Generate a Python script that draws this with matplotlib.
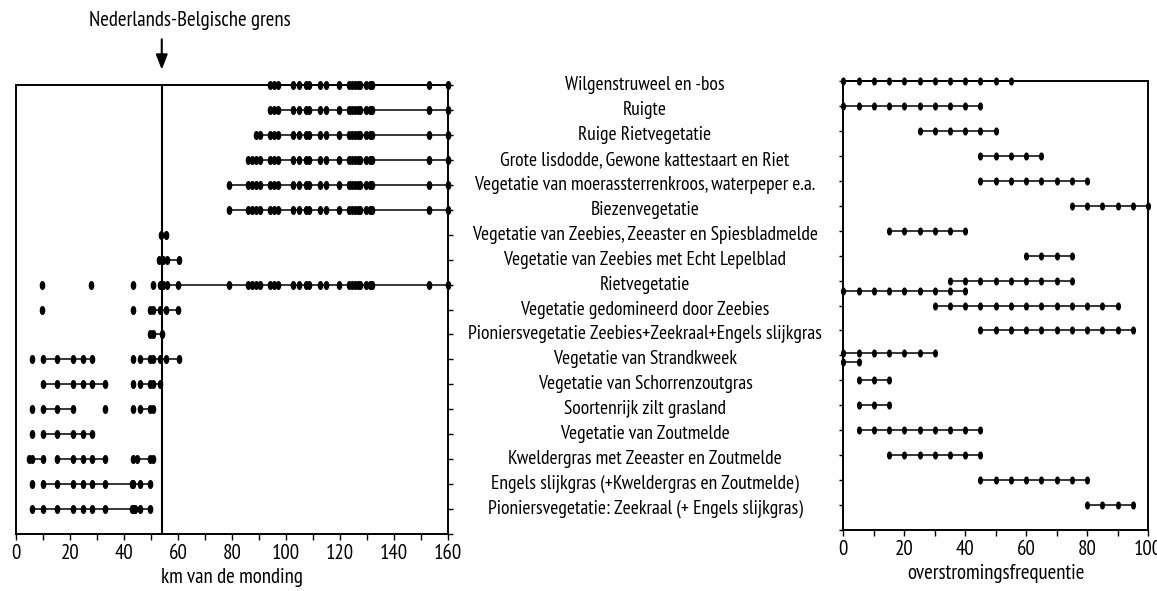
import numpy as np
import matplotlib
matplotlib.use("Agg")
import matplotlib.pyplot as plt
from matplotlib.ticker import MultipleLocator
from matplotlib.transforms import blended_transform_factory

plt.rcParams['font.family'] = ['PT Sans Narrow', 'DejaVu Sans']

# vegetatietypen, van boven naar beneden
vegetatie = [
    "Wilgenstruweel en -bos",
    "Ruigte",
    "Ruige Rietvegetatie",
    "Grote lisdodde, Gewone kattestaart en Riet",
    "Vegetatie van moerassterrenkroos, waterpeper e.a.",
    "Biezenvegetatie",
    "Vegetatie van Zeebies, Zeeaster en Spiesbladmelde",
    "Vegetatie van Zeebies met Echt Lepelblad",
    "Rietvegetatie",
    "Vegetatie gedomineerd door Zeebies",
    "Pioniersvegetatie Zeebies+Zeekraal+Engels slijkgras",
    "Vegetatie van Strandkweek",
    "Vegetatie van Schorrenzoutgras",
    "Soortenrijk zilt grasland",
    "Vegetatie van Zoutmelde",
    "Kweldergras met Zeeaster en Zoutmelde",
    "Engels slijkgras (+Kweldergras en Zoutmelde)",
    "Pioniersvegetatie: Zeekraal (+ Engels slijkgras)",
]

grens_km = 54

# vindplaatsen in het zoete deel (km van de monding)
boven = [94, 95.5, 97, 102.5, 105, 107.5, 108.5, 112.5, 115, 119.5,
         123.5, 124.5, 125.5, 126.5, 127.5, 129.5, 131, 132, 153, 160]
zoet = [79, 86, 87.5, 89, 90.5]

km_punten = [
    boven,
    boven,
    [89, 90.5] + boven,
    [86, 87.5, 89, 90.5] + boven,
    zoet + boven,
    zoet + boven,
    [53.7, 55.4],
    [53, 54.3, 55.8, 60.4],
    [9.7, 27.7, 43.2, 50.9, 53.2, 54.5, 55.8, 60.1] + zoet + boven,
    [9.7, 43.2, 49.6, 50.9, 53.3, 55.4, 60.1],
    [49.6, 50.9, 54],
    [6, 9.9, 15.1, 21, 24.7, 28, 43.4, 45.9, 49.6, 50.6, 53.5, 55.4, 60.4],
    [9.9, 15.1, 21, 24.7, 28, 33, 43.4, 45.9, 49.6, 50.6, 53.3],
    [6, 9.9, 15.1, 21, 33, 43.4, 45.9, 49.6, 50.6],
    [6, 9.9, 15.1, 21, 24.7, 28],
    [4.9, 6, 9.9, 15.1, 21, 24.7, 28, 33, 43.4, 45, 49.6, 50.6],
    [6, 9.9, 15.1, 21, 24.7, 28, 33, 42.8, 43.4, 45.9, 49.6],
    [6, 9.9, 15.1, 21, 24.7, 28, 33, 42.8, 43.4, 44, 45.9, 49.6],
]

# verbonden trajecten (begin, eind) per vegetatietype
km_lijnen = [
    [(94, 160)], [(94, 160)], [(89, 160)], [(86, 160)], [(79, 160)], [(79, 160)],
    [(53.7, 55.4)], [(53, 60.4)], [(53.2, 160)], [(49.6, 60.1)], [(49.6, 54)],
    [(9.9, 28), (45.9, 60.4)], [(9.9, 33), (45.9, 53.3)], [(9.9, 21), (45.9, 50.6)],
    [(9.9, 28)], [(4.9, 9.9), (15.1, 33), (45, 50.6)], [(9.9, 49.6)], [(6, 49.6)],
]

# overstromingsfrequentie per vegetatietype
freq_rij = [0, 1, 2, 3, 4, 5, 6, 7, 8, 8, 9, 10, 11, 11, 12, 13, 14, 15, 16, 17]
freq_verschuiving = [0, 0, 0, 0, 0, 0, 0, 0, 0, -0.4, 0, 0, 0.1, -0.25, 0, 0, 0, 0, 0, 0]
freq_punten = [
    [0, 5, 10, 15, 20, 25, 30, 35, 40, 45, 50, 55],
    [0, 5, 10, 15, 20, 25, 30, 35, 40, 45],
    [25, 30, 35, 40, 45, 50],
    [45, 50, 55, 60, 65],
    [45, 50, 55, 60, 65, 70, 75, 80],
    [75, 80, 85, 90, 95, 100],
    [15, 20, 25, 30, 35, 40],
    [60, 65, 70, 75],
    [35, 40, 45, 50, 55, 60, 65, 70, 75],
    [0, 5, 10, 15, 20, 25, 30, 35, 40],
    [30, 35, 40, 45, 50, 55, 60, 65, 70, 75, 80, 85, 90],
    [45, 50, 55, 60, 65, 70, 75, 80, 85, 90, 95],
    [0, 5, 10, 15, 20, 25, 30],
    [0, 5],
    [5, 10, 15],
    [5, 10, 15],
    [5, 10, 15, 20, 25, 30, 35, 40, 45],
    [15, 20, 25, 30, 35, 40, 45],
    [45, 50, 55, 60, 65, 70, 75, 80],
    [80, 85, 90, 95],
]

# ovale stip als marker
t = np.linspace(0, 2 * np.pi, 40)
stip = np.column_stack([0.55 * np.cos(t), np.sin(t)])

n = len(vegetatie)
fig = plt.figure(figsize=(11.57, 5.91), dpi=100)
axL = fig.add_axes([0.0138, 0.0964, 0.3734, 0.7597])
axR = fig.add_axes([0.7289, 0.1032, 0.2634, 0.7597])

# linker paneel: km van de monding
for i in range(n):
    y = n - i
    for a, b in km_lijnen[i]:
        axL.plot([a, b], [y, y], color='black', lw=1.1, clip_on=False)
    axL.plot(km_punten[i], [y] * len(km_punten[i]), ls='none', marker=stip,
             ms=5.5, color='black', clip_on=False)
axL.axvline(grens_km, color='black', lw=1.5)

axL.set_xlim(0, 160)
axL.set_ylim(0, n)
axL.xaxis.set_major_locator(MultipleLocator(20))
axL.xaxis.set_minor_locator(MultipleLocator(10))
axL.set_yticks(range(0, n + 1))
axL.yaxis.tick_right()
axL.tick_params(axis='y', labelright=False, length=3.5, width=1)
axL.tick_params(axis='x', which='both', length=4, width=1, labelsize=15, pad=3)
axL.set_xlabel("km van de monding", fontsize=15, labelpad=4)

# pijl naar de grens
axL.annotate("", xy=(grens_km, 1.028), xycoords=('data', 'axes fraction'),
             xytext=(grens_km, 1.108), textcoords=('data', 'axes fraction'),
             arrowprops=dict(arrowstyle='-|>,head_length=0.9,head_width=0.35',
                             color='black', lw=1.5))
fig.text(0.164, 0.966, "Nederlands-Belgische grens", fontsize=15,
         ha='center', va='center')

# rechter paneel: overstromingsfrequentie
for k in range(len(freq_punten)):
    y = n - freq_rij[k] + freq_verschuiving[k]
    axR.plot(freq_punten[k], [y] * len(freq_punten[k]), color='black', lw=1.1,
             marker=stip, ms=4.8, clip_on=False)

axR.set_xlim(0, 100)
axR.set_ylim(0, n)
axR.xaxis.set_major_locator(MultipleLocator(20))
axR.xaxis.set_minor_locator(MultipleLocator(10))
axR.set_yticks(range(0, n + 1))
axR.tick_params(axis='y', labelleft=False, length=3, width=1)
axR.tick_params(axis='x', which='both', length=4, width=1, labelsize=15, pad=3)
axR.set_xlabel("overstromingsfrequentie", fontsize=15, labelpad=4)

for ax in (axL, axR):
    for s in ax.spines.values():
        s.set_linewidth(1.4)

# namen van de vegetatietypen in het midden
trans = blended_transform_factory(fig.transFigure, axL.transData)
for i, naam in enumerate(vegetatie):
    fig.text(0.5575, n - i, naam, transform=trans, fontsize=14,
             ha='center', va='center')

fig.savefig("out.png", dpi=100)
